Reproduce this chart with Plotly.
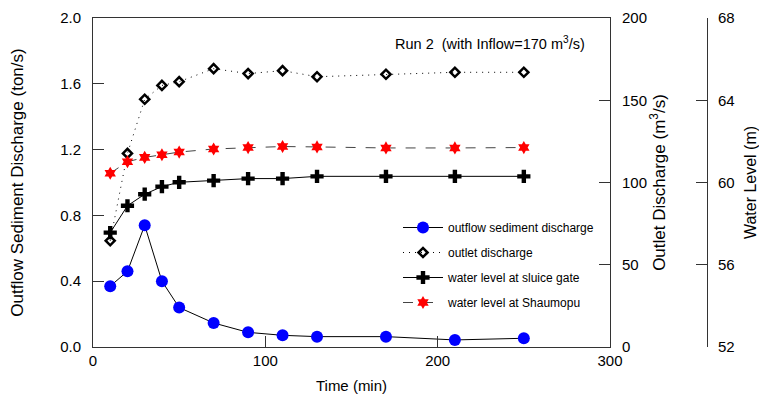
import plotly.graph_objects as go

time_min = [10, 20, 30, 40, 50, 70, 90, 110, 130, 170, 210, 250]
sediment = [0.37, 0.46, 0.74, 0.40, 0.24, 0.146, 0.089, 0.071, 0.063, 0.063, 0.043, 0.053]
outlet_q = [64.6, 117.7, 150.6, 159.0, 161.3, 169.2, 166.2, 168.0, 164.3, 165.8, 167.0, 167.0]
wl_sluice = [57.56, 58.87, 59.43, 59.80, 60.01, 60.09, 60.19, 60.19, 60.30, 60.30, 60.30, 60.30]
wl_shaumopu = [60.45, 61.01, 61.22, 61.35, 61.48, 61.63, 61.70, 61.75, 61.73, 61.68, 61.68, 61.70]

FONT = "Liberation Sans, Arial, sans-serif"
AX = "#333333"

fig = go.Figure()
fig.add_trace(go.Scatter(x=time_min, y=sediment, name="outflow sediment discharge",
                         mode="lines+markers", legendgroup="a",
                         line=dict(color="black", width=1),
                         marker=dict(symbol="circle", size=12, color="#0000ff",
                                     line=dict(width=0)), yaxis="y"))
fig.add_trace(go.Scatter(x=time_min, y=outlet_q, name="outlet discharge",
                         mode="lines+markers", legendgroup="b",
                         line=dict(color="black", width=1, dash="1px,5px"),
                         marker=dict(symbol="diamond-open", size=7, color="black",
                                     line=dict(width=2.5, color="black")), yaxis="y2"))
fig.add_trace(go.Scatter(x=time_min, y=wl_sluice, name="water level at sluice gate",
                         mode="lines+markers", legendgroup="c",
                         line=dict(color="black", width=1),
                         marker=dict(symbol="cross", size=11, color="black",
                                     line=dict(width=0)), yaxis="y3"))
fig.add_trace(go.Scatter(x=time_min, y=wl_shaumopu, name="water level at Shaumopu",
                         mode="lines+markers", legendgroup="d",
                         line=dict(color="#444444", width=1, dash="10px,10px"),
                         marker=dict(symbol="hexagram", size=10, color="#ff0000",
                                     line=dict(width=0)), yaxis="y3"))

dom = 517 / 627
fig.update_layout(
    width=759, height=407,
    margin=dict(l=93, r=39, t=18, b=60, autoexpand=False),
    paper_bgcolor="white", plot_bgcolor="white",
    font=dict(family=FONT, size=14, color="black"),
    showlegend=True,
    legend=dict(x=(398 - 93) / 627, y=(347 - 213) / 329, xanchor="left", yanchor="top",
                font=dict(size=12, family=FONT), bgcolor="rgba(0,0,0,0)",
                traceorder="grouped", tracegroupgap=6, itemwidth=40),
    xaxis=dict(domain=[0, dom], range=[0, 300], dtick=100, ticks="inside", ticklen=11,
               tickcolor=AX, showline=True, linecolor=AX, linewidth=1, mirror=True,
               showgrid=False, zeroline=False, automargin=False,
               title=dict(text="Time (min)", font=dict(size=15), standoff=12),
               tickfont=dict(size=15)),
    yaxis=dict(range=[0, 2], dtick=0.4, tickformat=".1f", ticks="inside", ticklen=11,
               tickcolor=AX, showline=True, linecolor=AX, linewidth=1,
               showgrid=False, zeroline=False, ticklabelstandoff=8, automargin=False,
               title=dict(text="Outflow Sediment Discharge (ton/s)", font=dict(size=17), standoff=32),
               tickfont=dict(size=15)),
    yaxis2=dict(range=[0, 200], dtick=50, overlaying="y", side="right", anchor="x",
                ticks="inside", ticklen=11, tickcolor=AX, showline=True, linecolor=AX,
                linewidth=1, showgrid=False, zeroline=False, ticklabelstandoff=8,
                automargin=False,
                title=dict(text="Outlet Discharge (m<sup>3</sup>/s)", font=dict(size=17), standoff=6),
                tickfont=dict(size=15)),
    yaxis3=dict(range=[52, 68], dtick=4, overlaying="y", side="right", anchor="free",
                position=(707 - 93) / 627, ticks="inside", ticklen=11, tickcolor=AX,
                showline=True, linecolor=AX, linewidth=1, showgrid=False, zeroline=False,
                ticklabelstandoff=7, automargin=False,
                title=dict(text="Water Level (m)", font=dict(size=16), standoff=12),
                tickfont=dict(size=15)),
    annotations=[dict(text="Run 2  (with Inflow=170 m<sup>3</sup>/s)", xref="paper", yref="paper",
                      x=(587 - 93) / 627, y=(347 - 43) / 329, xanchor="right", yanchor="middle",
                      showarrow=False, font=dict(size=14.5, family=FONT))],
)

fig.write_html("out.html")
